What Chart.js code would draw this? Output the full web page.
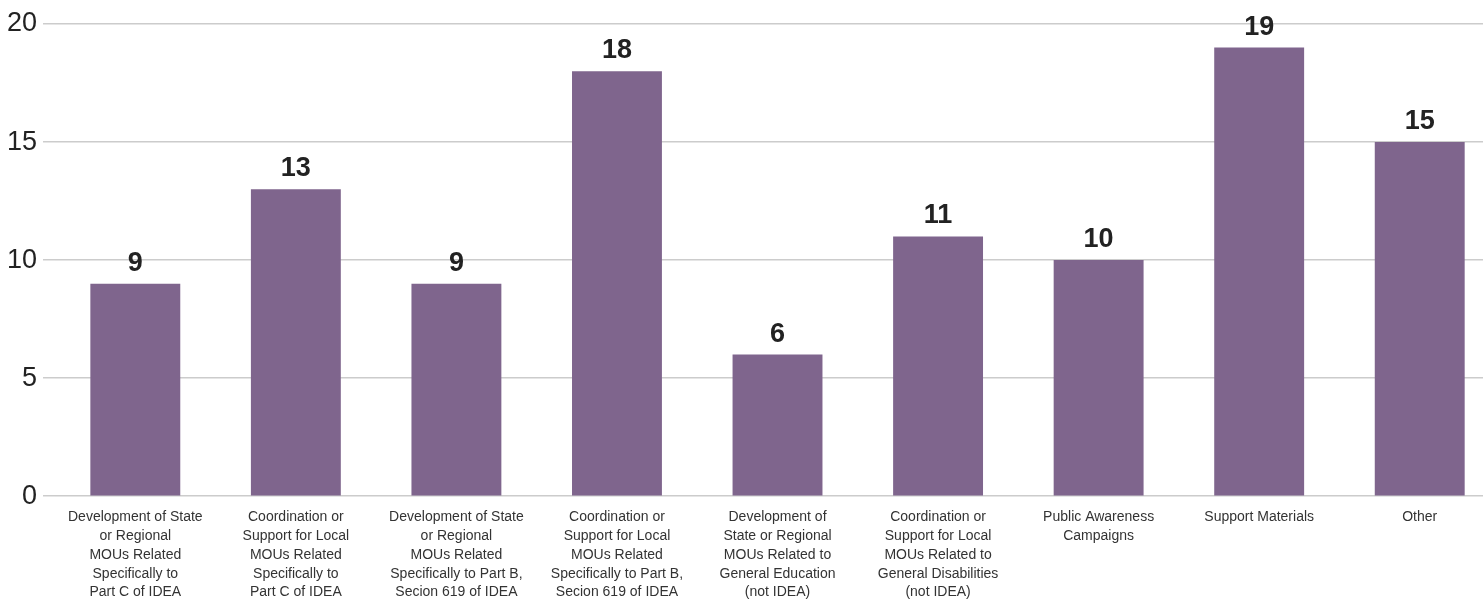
<!DOCTYPE html>
<html>
<head>
<meta charset="utf-8">
<script src="https://cdn.jsdelivr.net/npm/chart.js@4.4.1/dist/chart.umd.min.js"></script>
<style>
  html, body { margin: 0; padding: 0; background: #ffffff; overflow: hidden; }
  #wrap { width: 1500px; height: 606px; }
</style>
</head>
<body>
<div id="wrap"><canvas id="c" width="1500" height="606"></canvas></div>
<script>
const categories = [
  ["Development of State", "or Regional", "MOUs Related", "Specifically to", "Part C of IDEA"],
  ["Coordination or", "Support for Local", "MOUs Related", "Specifically to", "Part C of IDEA"],
  ["Development of State", "or Regional", "MOUs Related", "Specifically to Part B,", "Secion 619 of IDEA"],
  ["Coordination or", "Support for Local", "MOUs Related", "Specifically to Part B,", "Secion 619 of IDEA"],
  ["Development of", "State or Regional", "MOUs Related to", "General Education", "(not IDEA)"],
  ["Coordination or", "Support for Local", "MOUs Related to", "General Disabilities", "(not IDEA)"],
  ["Public Awareness", "Campaigns"],
  ["Support Materials"],
  ["Other"]
];
const values = [9, 13, 9, 18, 6, 11, 10, 19, 15];
const yTicks = [0, 5, 10, 15, 20];

const FONT = "'Liberation Sans', Arial, Helvetica, sans-serif";

const valueLabels = {
  id: 'valueLabels',
  afterDatasetsDraw(chart) {
    const ctx = chart.ctx;
    const meta = chart.getDatasetMeta(0);
    ctx.save();
    ctx.font = "bold 27px " + FONT;
    ctx.fillStyle = "#222222";
    ctx.textAlign = "center";
    ctx.textBaseline = "alphabetic";
    meta.data.forEach((bar, i) => {
      ctx.fillText(String(chart.data.datasets[0].data[i]), bar.x, bar.y - 13);
    });
    ctx.restore();
  }
};

new Chart(document.getElementById('c'), {
  type: 'bar',
  data: {
    labels: categories,
    datasets: [{
      data: values,
      backgroundColor: '#7f658d',
      borderWidth: 0,
      categoryPercentage: 1.0,
      barPercentage: 0.56
    }]
  },
  options: {
    responsive: false,
    animation: false,
    devicePixelRatio: 1,
    layout: { padding: { left: 1, top: 24, right: 0, bottom: 0 } },
    plugins: {
      legend: { display: false },
      tooltip: { enabled: false }
    },
    scales: {
      x: {
        type: 'category',
        offset: true,
        grid: { display: false },
        border: { display: false },
        ticks: {
          autoSkip: false,
          maxRotation: 0,
          minRotation: 0,
          padding: 4,
          color: '#333333',
          font: { family: FONT, size: 14, lineHeight: 1.34 }
        }
      },
      y: {
        min: 0,
        max: 20,
        border: { display: false },
        grid: { color: '#cccccc', lineWidth: 1.5, tickLength: 12, drawTicks: true },
        afterBuildTicks(axis) { axis.ticks = yTicks.map(v => ({ value: v })); },
        ticks: {
          padding: 6,
          color: '#222222',
          font: { family: FONT, size: 27 }
        }
      }
    }
  },
  plugins: [valueLabels]
});
</script>
</body>
</html>
